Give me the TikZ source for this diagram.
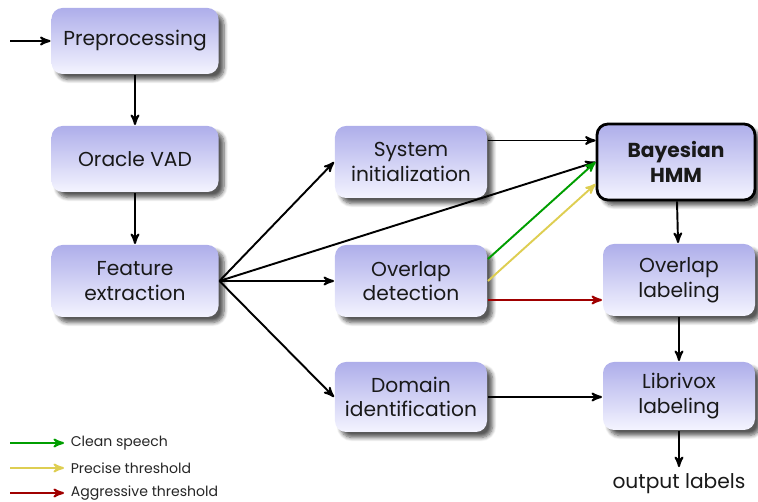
\documentclass[tikz,border=0pt]{standalone}
\usepackage{fontspec}
\setmainfont{Poppins}
\usetikzlibrary{arrows,calc,shadows.blur}

\definecolor{boxtop}{RGB}{174,174,234}
\definecolor{boxbot}{RGB}{244,244,255}
\definecolor{cleanc}{RGB}{0,158,0}
\definecolor{precisec}{RGB}{222,206,82}
\definecolor{aggrc}{RGB}{160,0,0}

\begin{document}
\begin{tikzpicture}[->, >=stealth', line width=1.1pt, x=0.2mm, y=-0.2mm]
        \tikzstyle{block}=[rectangle, rounded corners=2.2mm, top color=boxtop, bottom color=boxbot,
            minimum width=3.04cm, minimum height=1.44cm, align=center,
            font=\fontsize{11.5}{14}\selectfont, text=black!90,
            blur shadow={shadow xshift=1.1mm, shadow yshift=-1.1mm, shadow blur steps=7, shadow opacity=65}]
        \tikzstyle{wide}=[minimum width=3.34cm, minimum height=1.32cm]
        \tikzstyle{legend}=[font=\footnotesize, anchor=west, text=black!85]

        \useasboundingbox (0,0) rectangle (758,502);

        % left column
        \node[block,wide]  (prep)    at (135,41)  {Preprocessing};
        \node[block,wide]  (vad)     at (135,159) {Oracle VAD};
        \node[block,wide,minimum height=1.44cm] (feat) at (135,281) {Feature\\extraction};

        % middle column
        \node[block]  (init)    at (411,162) {System\\initialization};
        \node[block]  (ovdet)   at (411,281) {Overlap\\detection};
        \node[block,minimum height=1.4cm]  (domain)  at (411,397) {Domain\\identification};

        % right column
        \node[block, draw=black, line width=1.6pt, minimum width=3.16cm, minimum height=1.52cm,
              font=\fontsize{11.5}{14}\selectfont\bfseries] (hmm) at (676,162) {Bayesian\\HMM};
        \node[block]  (ovlab)   at (679,280) {Overlap\\labeling};
        \node[block,minimum height=1.36cm]  (libri)   at (679,396) {Librivox\\labeling};
        \node[font=\fontsize{11.5}{14}\selectfont, text=black!90] (out) at (679,484) {output labels};

        \coordinate (in) at (10,41);

        \path
            (in)     edge (prep)
            (prep)   edge (vad)
            (vad)    edge (feat)
            (feat.east) edge (init.west)
            (feat.east) edge (hmm.west)
            (feat.east) edge (ovdet.west)
            (feat.east) edge (domain.west)
            ([yshift=4.3mm]init.east) edge ([yshift=4.3mm]init.east -| hmm.west)
            (hmm)    edge (ovlab)
            (ovlab)  edge (libri)
            (domain) edge (domain -| libri.west)
            (libri)  edge (out)
        ;

        % the three outputs of the overlap detector
        \draw[cleanc]   ([yshift=4.4mm]ovdet.east) -- (hmm.west);
        \draw[precisec] (ovdet.east) -- ([yshift=-4.4mm]hmm.west);
        \draw[aggrc]    ([yshift=-3.8mm]ovdet.east) -- ([yshift=-3.8mm]ovdet.east -| ovlab.west);

        % legend
        \coordinate (l1) at (10,443);
        \coordinate (l2) at (10,468);
        \coordinate (l3) at (10,493);
        \node[legend] (clean)   at (64,443) {Clean speech};
        \node[legend] (precise) at (64,468) {Precise threshold};
        \node[legend] (aggr)    at (64,493) {Aggressive threshold};
        \draw[cleanc]   (l1) -- (clean.west);
        \draw[precisec] (l2) -- (precise.west);
        \draw[aggrc]    (l3) -- (aggr.west);
\end{tikzpicture}
\end{document}
